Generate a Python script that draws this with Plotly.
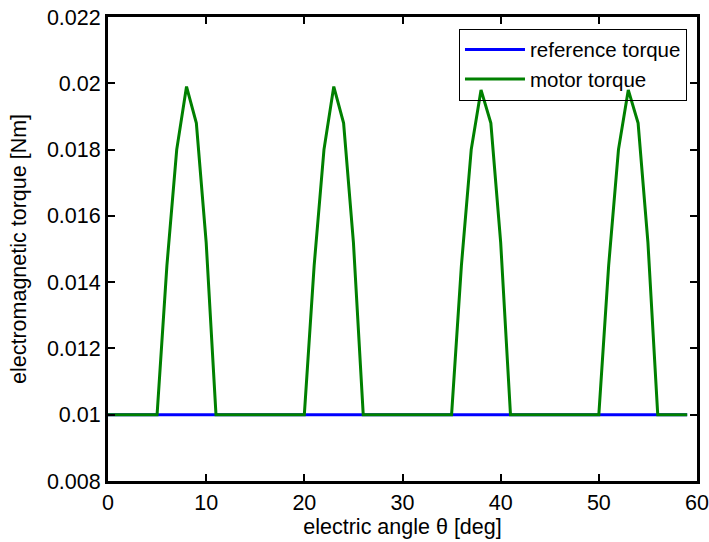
import plotly.graph_objects as go

angle_deg = list(range(0, 60))

reference_torque = [0.01] * 60

motor_torque = [
    0.01, 0.01, 0.01, 0.01, 0.01, 0.01, 0.0145, 0.018, 0.0199, 0.0188,
    0.0152, 0.01, 0.01, 0.01, 0.01, 0.01, 0.01, 0.01, 0.01, 0.01,
    0.01, 0.0145, 0.018, 0.0199, 0.0188, 0.0152, 0.01, 0.01, 0.01, 0.01,
    0.01, 0.01, 0.01, 0.01, 0.01, 0.01, 0.0145, 0.018, 0.0198, 0.0188,
    0.0152, 0.01, 0.01, 0.01, 0.01, 0.01, 0.01, 0.01, 0.01, 0.01,
    0.01, 0.0145, 0.018, 0.0198, 0.0188, 0.0152, 0.01, 0.01, 0.01, 0.01,
]

x_ticks = [0, 10, 20, 30, 40, 50, 60]
y_ticks = [0.008, 0.01, 0.012, 0.014, 0.016, 0.018, 0.02, 0.022]
y_tick_labels = ["0.008", "0.01", "0.012", "0.014", "0.016", "0.018", "0.02", "0.022"]

FONT = "Liberation Sans, Arial, Helvetica, sans-serif"
FS = 21.5

fig = go.Figure()
fig.add_trace(go.Scatter(x=angle_deg, y=reference_torque, mode="lines",
                         name="reference torque",
                         line=dict(color="rgb(0,0,255)", width=3)))
fig.add_trace(go.Scatter(x=angle_deg, y=motor_torque, mode="lines",
                         name="motor torque",
                         line=dict(color="rgb(0,128,0)", width=3)))

axis_common = dict(showline=True, linecolor="black", linewidth=3, mirror="ticks",
                   ticks="inside", ticklen=7, tickwidth=2, tickcolor="black",
                   showgrid=False, zeroline=False, automargin=False,
                   tickfont=dict(family=FONT, size=FS, color="black"))

fig.update_xaxes(range=[0, 60], tickvals=x_ticks,
                 title=dict(text="electric angle θ [deg]",
                            font=dict(family=FONT, size=FS, color="black"), standoff=0),
                 **axis_common)
fig.update_yaxes(range=[0.008, 0.022], tickvals=y_ticks, ticktext=y_tick_labels,
                 title=dict(text="electromagnetic torque [Nm]",
                            font=dict(family=FONT, size=FS, color="black"), standoff=15),
                 **axis_common)

fig.update_layout(
    width=709, height=542,
    margin=dict(l=108, r=12, t=17, b=61),
    plot_bgcolor="white", paper_bgcolor="white",
    font=dict(family=FONT, size=FS, color="black"),
    legend=dict(x=0.983, y=0.975, xanchor="right", yanchor="top",
                bordercolor="black", borderwidth=1, bgcolor="rgba(255,255,255,0)",
                font=dict(family=FONT, size=20.5, color="black"),
                tracegroupgap=0, itemwidth=60),
    showlegend=True,
)

fig.write_html("out.html")
